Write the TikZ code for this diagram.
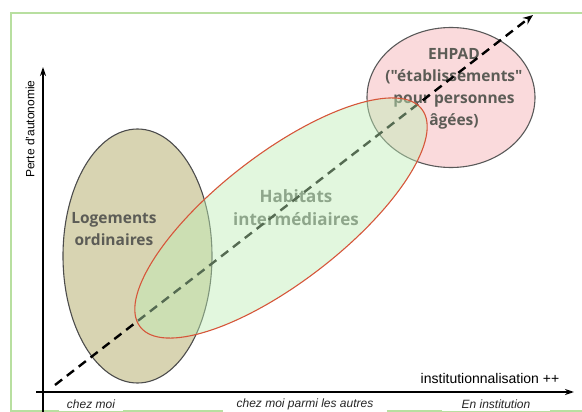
\documentclass[tikz,border=0pt]{standalone}
\usepackage{fontspec}
\setmainfont{Liberation Sans}
\newfontfamily\bubble{Open Sans}
\usepackage{tikz}
\usetikzlibrary{arrows.meta}

\definecolor{framegreen}{RGB}{184,223,160}
\definecolor{logfill}{RGB}{216,212,178}
\definecolor{ehpadfill}{RGB}{250,218,220}
\definecolor{habfill}{RGB}{190,238,182}
\definecolor{habline}{RGB}{214,86,58}
\definecolor{txtgray}{RGB}{92,92,86}
\definecolor{habtext}{RGB}{104,108,104}

\begin{document}
\begin{tikzpicture}[x=1pt,y=-1pt,
    axis/.style={line width=1.8pt,-{Stealth[length=9pt,width=6pt]}},
    trend/.style={line width=2.4pt,dash pattern=on 9pt off 6pt,-{Stealth[length=10pt,width=8pt]}},
    zone/.style={line width=1.1pt},
    bubbletext/.style={font=\bubble\bfseries\fontsize{15.5}{22}\selectfont,text=txtgray,align=center},
    tag/.style={fill=white,text=black!85,font=\itshape\fontsize{12}{14}\selectfont,inner ysep=3pt}]
  \useasboundingbox (0,0) rectangle (582,412);
  \draw[framegreen,line width=1.5pt] (600,13) -- (11,13) -- (11,411) -- (600,411);

  % the three kinds of housing
  \filldraw[zone,fill=logfill,draw=black!70] (137.5,256) ellipse (74.5 and 127);
  \filldraw[zone,fill=ehpadfill,draw=black!65] (451,97.5) ellipse (84 and 70);

  \node[bubbletext] (logements) at (114,229) {Logements\\ordinaires};
  \node[bubbletext] (ehpad) at (454,88.5) {EHPAD\\("établissements"\\pour personnes\\âgées)};
  \node[bubbletext,font=\bubble\bfseries\fontsize{17}{23}\selectfont,text=habtext] (habitats) at (296,208) {Habitats\\intermédiaires};

  \coordinate (lo) at (55,385);
  \coordinate (hi) at (533,15);
  \draw[trend] (lo) -- (hi);

  \fill[habfill,fill opacity=0.45,rotate around={37.7:(281,218)}] (281,218) ellipse (178 and 64);
  \draw[zone,habline,rotate around={37.7:(281,218)}] (281,218) ellipse (178 and 64);

  % axes
  \coordinate (ybot) at (43,412);
  \coordinate (ytop) at (43,67);
  \coordinate (xleft) at (36,392);
  \coordinate (xright) at (574,392);
  \draw[axis] (ybot) -- (ytop);
  \draw[axis] (xleft) -- (xright);

  \node[rotate=90,font=\fontsize{12}{14}\selectfont] (perte) at (30,129) {Perte d'autonomie};
  \node[font=\fontsize{14}{16}\selectfont] (inst) at (490,378) {institutionnalisation ++};

  \node[tag,minimum width=64pt] (chezmoi) at (91,404) {chez moi};
  \node[tag,minimum width=164pt] (parmi) at (305,404) {chez moi parmi les autres};
  \node[tag,minimum width=108pt] (institution) at (496,404) {En institution};
\end{tikzpicture}
\end{document}
